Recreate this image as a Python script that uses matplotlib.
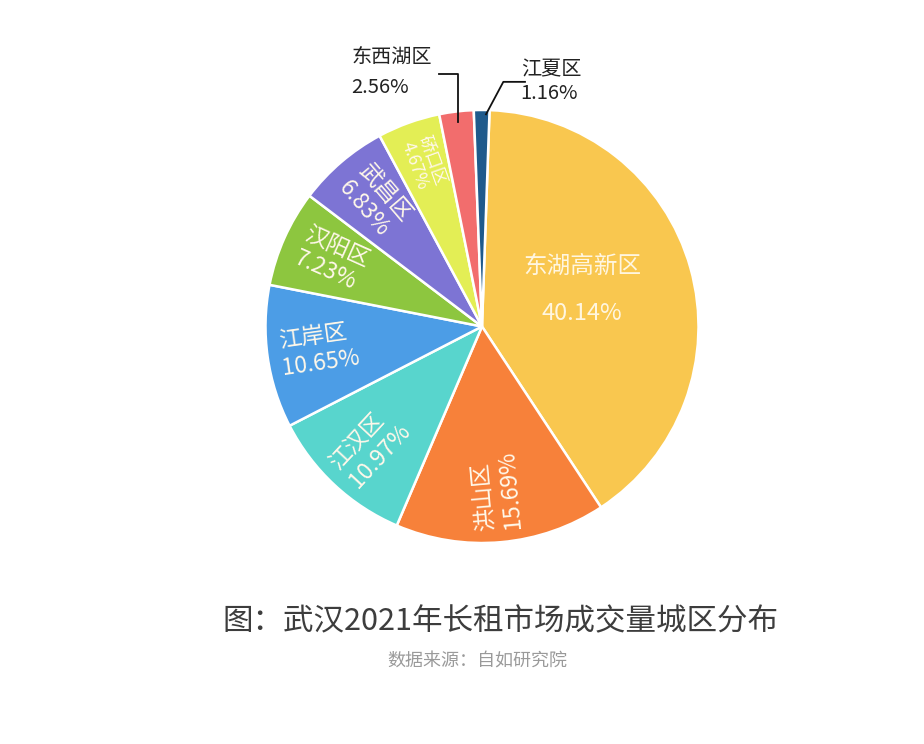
import matplotlib
matplotlib.use('Agg')
import numpy as np
import matplotlib.pyplot as plt

plt.rcParams['font.family'] = ['Noto Sans CJK SC', 'DejaVu Sans']

# data
districts = ['东湖高新区', '洪山区', '江汉区', '江岸区', '汉阳区', '武昌区', '硚口区', '东西湖区', '江夏区']
shares = [40.14, 15.69, 10.97, 10.65, 7.23, 6.83, 4.67, 2.56, 1.16]
colors = ['#F9C74F', '#F7813A', '#58D5CD', '#4C9DE6', '#8DC63F', '#7D74D4', '#E3EE55', '#F26D6D', '#1F5A8C']

W, H = 924, 744
fig = plt.figure(figsize=(W / 100, H / 100), dpi=100)

# pie placed by pixel centre / radius
cx, cy, r = 482, 326.5, 216.5
ax = fig.add_axes([(cx - r) / W, (H - cy - r) / H, 2 * r / W, 2 * r / H])
wedges, _ = ax.pie(shares, colors=colors, startangle=88, counterclock=False,
                   wedgeprops=dict(edgecolor='white', linewidth=1.8))
ax.set_xlim(-1, 1)
ax.set_ylim(-1, 1)
ax.set_aspect('equal')
ax.axis('off')

for i, w in enumerate(wedges):
    mid = (w.theta1 + w.theta2) / 2
    rad = np.deg2rad(mid)
    txt = districts[i] + '\n' + '%.2f%%' % shares[i]
    if i == 0:
        # big slice: horizontal label
        d = 0.48
        ax.text(d * np.cos(rad), d * np.sin(rad) + 0.04, districts[i] + '\n\n' + '%.2f%%' % shares[i],
                ha='center', va='center', color='#FFF6E0', fontsize=17, linespacing=1.05)
    elif shares[i] > 4:
        # radial labels inside the slice
        narrow = shares[i] < 5
        d = 0.80 if narrow else 0.76
        rot = mid
        while rot >= 100:
            rot -= 180
        while rot < -80:
            rot += 180
        ax.text(d * np.cos(rad), d * np.sin(rad), txt, ha='center', va='center',
                multialignment='left', rotation=rot, rotation_mode='anchor',
                color='#FFF8EA', fontsize=12.5 if narrow else 16.5,
                linespacing=1.0 if narrow else 1.2)
    else:
        # small slices: leader line + outside label
        x0, y0 = 0.95 * np.cos(rad), 0.95 * np.sin(rad)
        if np.cos(rad) < -0.05:
            xe, ye = x0, 1.165
            xt = xe - 0.085
            ax.plot([x0, xe, xt], [y0, ye, ye], color='#111111', lw=1.3, clip_on=False)
            ax.text(xt - 0.035, ye + 0.01, txt, ha='right', va='center', multialignment='left',
                    color='#222222', fontsize=14.5, linespacing=1.6)
        else:
            xe, ye = x0 + 0.10, 1.13
            xt = xe + 0.10
            ax.plot([x0 + 0.02, xe, xt], [y0 + 0.03, ye, ye], color='#111111', lw=1.3, clip_on=False)
            ax.text(xt - 0.02, ye, txt, ha='left', va='center', multialignment='left',
                    color='#222222', fontsize=14.5, linespacing=1.15)

title = '图：武汉2021年长租市场成交量城区分布'
fig.text(500 / W, 1 - 622 / H, title, ha='center', va='center',
         fontsize=22, color='#3D3D3D', fontweight='medium')
fig.text(477 / W, 1 - 662 / H, '数据来源：自如研究院', ha='center', va='center',
         fontsize=13, color='#9A9A9A')

plt.savefig('out.png', dpi=100)
